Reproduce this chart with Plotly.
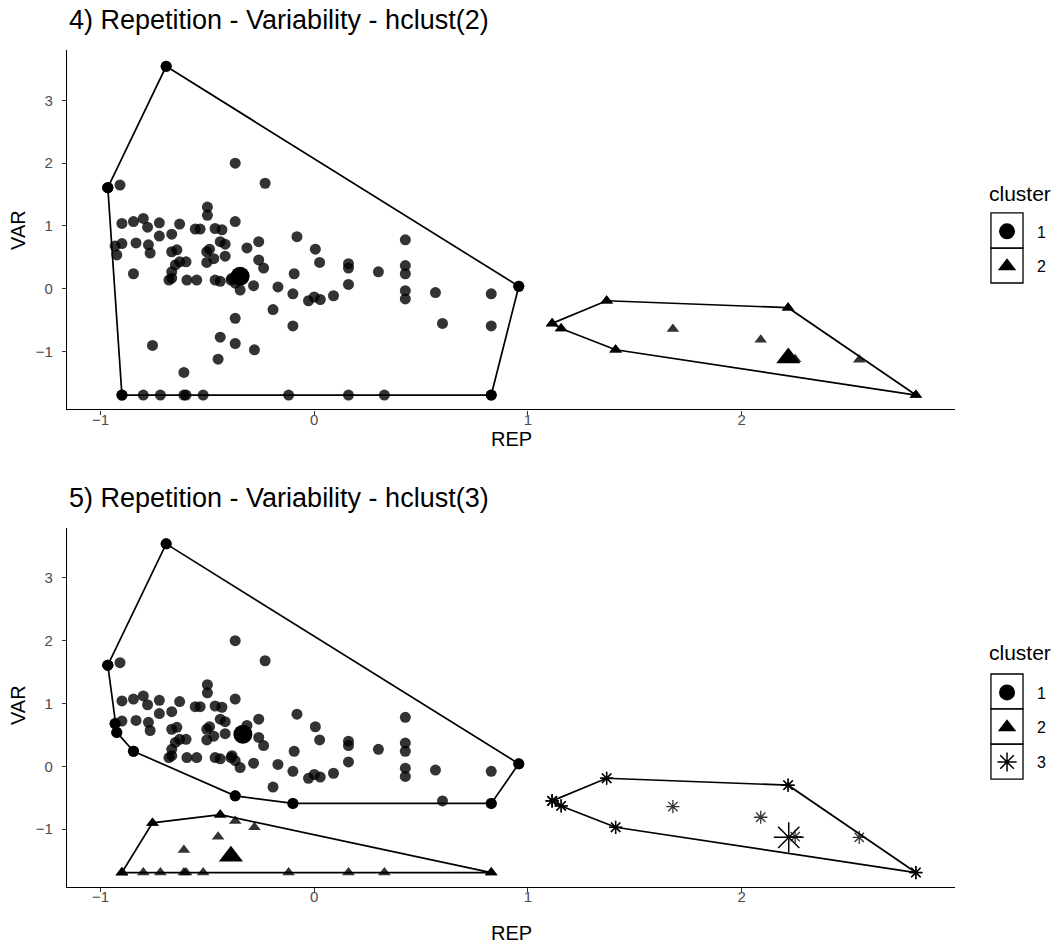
import plotly.graph_objects as go
from plotly.subplots import make_subplots

# ---------------- data ----------------
# group A: points in cluster 1 in both panels
a_rep = [-0.693, -0.966, -0.909, -0.37, -0.23, -0.90, -0.846, -0.80, -0.78, -0.725,
         -0.63, -0.557, -0.534, -0.50, -0.50, -0.725, -0.667, -0.464, -0.432, -0.37,
         -0.90, -0.932, -0.834, -0.776, -0.768, -0.924, -0.667, -0.643, -0.60, -0.63,
         -0.65, -0.667, -0.68, -0.667, -0.596, -0.55, -0.846, -0.503, -0.49, -0.503,
         -0.47, -0.464, -0.44, -0.417, -0.417, -0.26, -0.315, -0.26, -0.237, -0.081,
         0.005, 0.025, -0.094, -0.44, -0.39, -0.347, -0.284, -0.17, -0.10, 0.16,
         0.16, 0.16, 0.30, 0.426, 0.426, 0.426, 0.426, 0.426, 0.567, 0.60,
         -0.193, -0.10, -0.027, 0.0, 0.028, 0.09, -0.37, 0.957, 0.828, 0.828,
         -0.385, -0.37]
a_var = [3.54, 1.61, 1.65, 2.0, 1.68, 1.04, 1.07, 1.12, 0.98, 1.05,
         1.03, 0.95, 0.95, 1.30, 1.17, 0.84, 0.87, 0.96, 0.94, 1.07,
         0.72, 0.68, 0.73, 0.70, 0.57, 0.54, 0.59, 0.62, 0.43, 0.43,
         0.38, 0.27, 0.14, 0.17, 0.14, 0.14, 0.24, 0.59, 0.63, 0.42,
         0.48, 0.14, 0.75, 0.71, 0.52, 0.75, 0.65, 0.46, 0.33, 0.83,
         0.63, 0.42, 0.24, 0.12, 0.14, -0.02, 0.05, 0.03, -0.08, 0.40,
         0.33, 0.07, 0.27, 0.78, 0.37, 0.24, -0.03, -0.16, -0.06, -0.55,
         -0.33, -0.59, -0.19, -0.13, -0.17, -0.11, -0.47, 0.04, -0.08, -0.59,
         0.17, 0.09]
# group B: cluster 1 in hclust(2), cluster 2 in hclust(3)
b_rep = [-0.757, -0.44, -0.37, -0.28, -0.45, -0.61,
         -0.90, -0.80, -0.72, -0.61, -0.60, -0.52, -0.12, 0.16, 0.328, 0.828]
b_var = [-0.90, -0.77, -0.87, -0.97, -1.12, -1.33,
         -1.69, -1.69, -1.69, -1.69, -1.69, -1.69, -1.69, -1.69, -1.69, -1.69]
# group C: cluster 2 in hclust(2), cluster 3 in hclust(3)
c_rep = [1.113, 1.155, 1.368, 1.41, 1.678, 2.089, 2.217, 2.55, 2.815, 2.25]
c_var = [-0.55, -0.63, -0.19, -0.97, -0.64, -0.81, -0.30, -1.13, -1.69, -1.12]

# cluster centres (large markers)
cent2_rep = [-0.347, 2.218]
cent2_var = [0.20, -1.10]
cent3_rep = [-0.334, -0.39, 2.22]
cent3_var = [0.51, -1.43, -1.13]

cluster_labels2 = ["1", "2"]
cluster_labels3 = ["1", "2", "3"]
titles = ["4) Repetition - Variability - hclust(2)", "5) Repetition - Variability - hclust(3)"]
x_ticks = [-1, 0, 1, 2]
y_ticks = [-1, 0, 1, 2, 3]


def hull(xs, ys):
    pts = sorted(set(zip(xs, ys)))
    def cross(o, a, b):
        return (a[0]-o[0])*(b[1]-o[1]) - (a[1]-o[1])*(b[0]-o[0])
    lower, upper = [], []
    for p in pts:
        while len(lower) >= 2 and cross(lower[-2], lower[-1], p) <= 0:
            lower.pop()
        lower.append(p)
    for p in reversed(pts):
        while len(upper) >= 2 and cross(upper[-2], upper[-1], p) <= 0:
            upper.pop()
        upper.append(p)
    h = lower[:-1] + upper[:-1]
    h.append(h[0])
    return [p[0] for p in h], [p[1] for p in h]


FONT = "Liberation Sans, Arial, sans-serif"
PT_COL = "rgba(0,0,0,0.8)"
SYM = {"1": "circle", "2": "triangle-up", "3": "asterisk-open"}
SMALL = {"1": 11, "2": 11, "3": 11}
BIG = {"1": 19, "2": 21, "3": 25}

fig = make_subplots(rows=2, cols=1, vertical_spacing=0.141)


def add_cluster(row, lab, xs, ys, cx, cy, legend):
    sym = SYM[lab]
    line = dict(width=1.3, color=PT_COL) if lab == "3" else dict(width=0)
    hx, hy = hull(xs, ys)
    fig.add_trace(go.Scatter(x=hx, y=hy, mode="lines+markers",
                             line=dict(color="black", width=1.7),
                             marker=dict(symbol=sym, size=SMALL[lab], color="black",
                                         line=dict(width=1.4, color="black") if lab == "3" else dict(width=0)),
                             showlegend=False, hoverinfo="skip"), row=row, col=1)
    fig.add_trace(go.Scatter(x=xs, y=ys, mode="markers",
                             marker=dict(symbol=sym, size=SMALL[lab], color=PT_COL, line=line),
                             showlegend=False), row=row, col=1)
    fig.add_trace(go.Scatter(x=[cx], y=[cy], mode="markers", name=lab,
                             legendgroup=legend + lab, legend=legend,
                             marker=dict(symbol=sym, size=BIG[lab], color="black",
                                         line=dict(width=1.5, color="black") if lab == "3" else dict(width=0)),
                             showlegend=True), row=row, col=1)


# top panel: hclust(2)
add_cluster(1, "1", a_rep + b_rep, a_var + b_var, cent2_rep[0], cent2_var[0], "legend")
add_cluster(1, "2", c_rep, c_var, cent2_rep[1], cent2_var[1], "legend")
# bottom panel: hclust(3)
add_cluster(2, "1", a_rep, a_var, cent3_rep[0], cent3_var[0], "legend2")
add_cluster(2, "2", b_rep, b_var, cent3_rep[1], cent3_var[1], "legend2")
add_cluster(2, "3", c_rep, c_var, cent3_rep[2], cent3_var[2], "legend2")

axis_common = dict(showgrid=False, zeroline=False, showline=True, linecolor="black",
                   linewidth=1.2, ticks="outside", ticklen=4, tickwidth=1.1,
                   tickcolor="#333333", tickfont=dict(family=FONT, size=15, color="#4d4d4d"))
for r in (1, 2):
    fig.update_xaxes(range=[-1.157, 2.998], tickvals=x_ticks, ticklabelstandoff=-8,
                     **axis_common, row=r, col=1)
    fig.update_yaxes(range=[-1.92, 3.80], tickvals=y_ticks, ticklabelstandoff=6,
                     **axis_common, row=r, col=1)

leg_common = dict(x=1.0248, xanchor="left", yanchor="top", font=dict(size=16),
                  tracegroupgap=11, itemwidth=50, bgcolor="rgba(0,0,0,0)")
fig.update_layout(
    width=1058, height=945,
    margin=dict(l=67, r=103, t=50, b=58, autoexpand=False),
    plot_bgcolor="white", paper_bgcolor="white",
    font=dict(family=FONT, color="black"),
    legend=dict(y=0.8035, **leg_common),
    legend2=dict(y=0.2527, **leg_common),
)

ann = []
for title, yp in zip(titles, [1.036, 0.465]):
    ann.append(dict(text=title, x=0.0, xref="paper", xanchor="left", y=yp, yref="paper",
                    yanchor="middle", showarrow=False, font=dict(size=27, family=FONT, color="black")))
for yp in [(887 - 439) / 837, (887 - 933) / 837]:
    ann.append(dict(text="REP", x=0.5, xref="paper", y=yp, yref="paper", yanchor="middle",
                    showarrow=False, font=dict(size=20, family=FONT, color="black")))
for yp in [0.785, 0.2174]:
    ann.append(dict(text="VAR", x=-0.0552, xref="paper", xanchor="center", y=yp, yref="paper",
                    yanchor="middle", textangle=-90, showarrow=False,
                    font=dict(size=20, family=FONT, color="black")))
# legend titles ("cluster")
for yp in [(887 - 193) / 837, (887 - 652) / 837]:
    ann.append(dict(text="cluster", x=(987 - 67) / 888, xref="paper", xanchor="left",
                    y=yp, yref="paper", yanchor="middle", showarrow=False,
                    font=dict(size=21, family=FONT, color="black")))
fig.update_layout(annotations=ann)

# legend key boxes
shapes = []
for y0, y1 in [(0.8053, 0.7634), (0.7634, 0.7216),
               (0.2545, 0.2127), (0.2127, 0.1708), (0.1708, 0.1290)]:
    shapes.append(dict(type="rect", xref="paper", yref="paper", x0=1.0405, x1=1.0766,
                       y0=y1, y1=y0, line=dict(color="black", width=1.3),
                       fillcolor="rgba(0,0,0,0)", layer="above"))
fig.update_layout(shapes=shapes)

fig.write_html("out.html", config={"displayModeBar": False},
               post_script="document.body.style.margin='0';")
